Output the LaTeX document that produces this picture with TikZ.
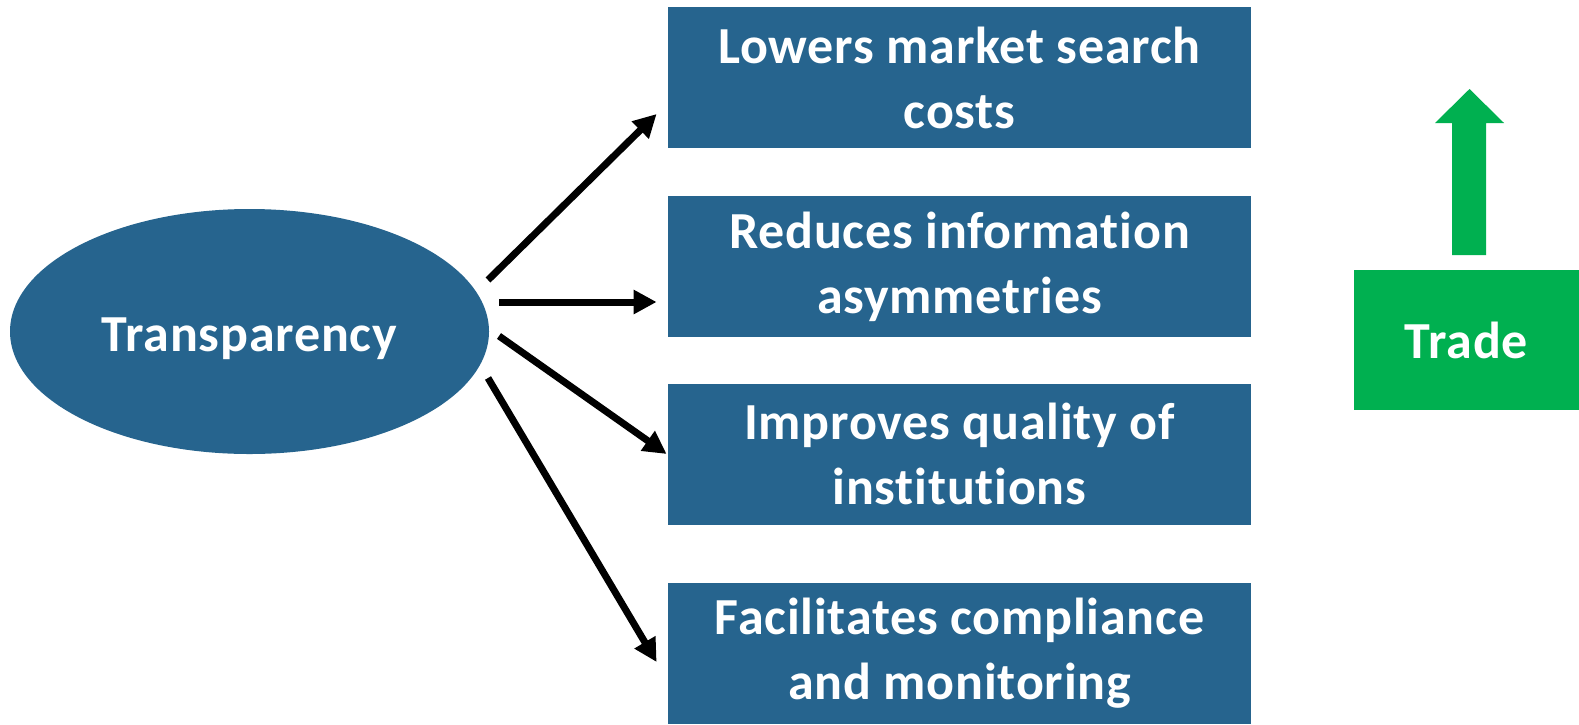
\documentclass[tikz,border=0pt]{standalone}
\usepackage{fontspec}
\setmainfont{Carlito}[LetterSpace=1.5,Ligatures={NoCommon}]
\usetikzlibrary{arrows.meta,shapes.geometric}
\definecolor{boxblue}{RGB}{38,100,142}
\definecolor{tradegreen}{RGB}{0,176,80}
\tikzset{
  effect/.style={rectangle, fill=boxblue, text=white, minimum width=291.5pt, minimum height=70.5pt,
    inner sep=0pt, align=center, font=\bfseries\fontsize{26}{32.5}\selectfont},
  oval/.style={ellipse, fill=boxblue, text=white, minimum width=239.5pt, minimum height=122.5pt,
    inner sep=0pt, text depth=0pt, font=\bfseries\fontsize{26}{32}\selectfont},
  tradebox/.style={rectangle, fill=tradegreen, text=white, minimum width=112.5pt, minimum height=70pt,
    inner sep=0pt, font=\bfseries\fontsize{26}{32}\selectfont},
  link/.style={line width=3.5pt, -{Triangle[length=11.5pt,width=11.5pt]}}
}
\begin{document}
\begin{tikzpicture}[x=0.5pt,y=-0.5pt]
\useasboundingbox (0,0) rectangle (1579,724);
\fill[white] (0,0) rectangle (1579,724);
\node[oval] (ell) at (249.5,331.5) {\raisebox{-3pt}{Transparency}};
\node[effect] (b1) at (959.5,77.5) {Lowers market search\\costs};
\node[effect] (b2) at (959.5,266.5) {Reduces information\\asymmetries};
\node[effect] (b3) at (959.5,454) {Improves quality of\\institutions};
\node[effect] (b4) at (959.5,653.5) {Facilitates compliance\\and monitoring};
\node[tradebox] (trade) at (1466.5,340) {Trade};
\draw[link] ([shift={(238.5,-51.5)}]ell.center) -- ([shift={(-11,36.5)}]b1.west);
\draw[link] ([shift={(249.5,-29.5)}]ell.center) -- ([shift={(-11,35.5)}]b2.west);
\draw[link] ([shift={(249.5,4.5)}]ell.center) -- ([shift={(-1,0)}]b3.west);
\draw[link] ([shift={(238.5,46.5)}]ell.center) -- ([shift={(-11,8.5)}]b4.west);
\fill[tradegreen] (1452,255) -- (1452,123) -- (1435,123) -- (1469.5,89) -- (1504,123) -- (1486,123) -- (1486,255) -- cycle;
\end{tikzpicture}
\end{document}
